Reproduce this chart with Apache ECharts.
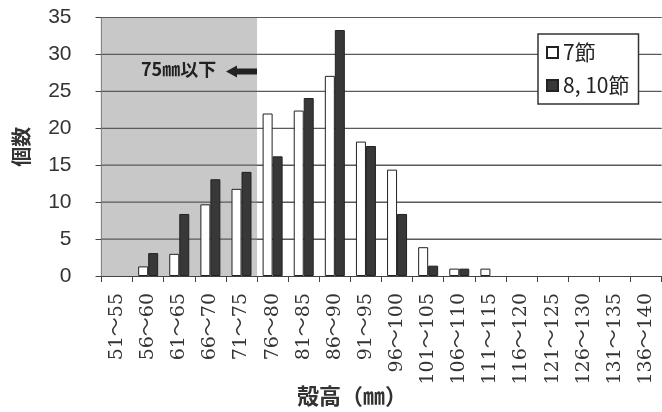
<!DOCTYPE html>
<html>
<head>
<meta charset="utf-8">
<script src="https://cdn.jsdelivr.net/npm/echarts@6/dist/echarts.min.js"></script>
<style>
html,body{margin:0;padding:0;background:#fff;}
#c{width:662px;height:412px;}
</style>
</head>
<body>
<div id="c"></div>
<script>
const categories = ['51～55','56～60','61～65','66～70','71～75','76～80','81～85','86～90','91～95','96～100','101～105','106～110','111～115','116～120','121～125','126～130','131～135','136～140'];
const seriesNames = ['7節', '8, 10節'];
const values7 = [0, 1.3, 3.0, 9.7, 11.8, 22.0, 22.4, 27.1, 18.2, 14.4, 3.9, 1.0, 1.0, 0, 0, 0, 0, 0];
const values810 = [0, 3.1, 8.4, 13.1, 14.1, 16.2, 24.1, 33.3, 17.6, 8.4, 1.4, 1.0, 0, 0, 0, 0, 0, 0];
const yTicks = [0, 5, 10, 15, 20, 25, 30, 35];
const shadeRange = [0, 5]; // first five classes (75mm以下)
const annotationText = '75㎜以下';
const xTitle = '殻高（㎜）';
const yTitle = '個数';

const toBar = v => (v === 0 ? '-' : v);

const GRID = {left: 101.5, top: 17.5, width: 560, height: 258.5};
const chart = echarts.init(document.getElementById('c'));
const sans = '"Liberation Sans", Arial, sans-serif';
const jp = '"Noto Sans CJK JP", sans-serif';
const serif = '"DejaVu Serif", "Liberation Serif", "Noto Sans CJK JP", serif';

const baseGraphic = [{
  type: 'text', left: 141, top: 60, z: 30,
  style: {text: annotationText, fontFamily: jp, fontSize: 18, fontWeight: 'bold', fill: '#222'}
}, {
  type: 'polygon', z: 30,
  shape: {points: [[226, 71.5], [237, 65.5], [237, 68.5], [257, 68.5], [257, 74.5], [237, 74.5], [237, 77.5]]},
  style: {fill: '#222'}
}, {
  type: 'text', z: 30,
  style: {text: xTitle, x: 352, y: 396, align: 'center', verticalAlign: 'middle', fontFamily: jp, fontSize: 22, fontWeight: 'bold', fill: '#333'}
}];

chart.setOption({
  animation: false,
  grid: GRID,
  legend: {
    orient: 'vertical', left: 538, top: 34, z: 30,
    data: seriesNames,
    backgroundColor: '#fff', borderColor: '#333', borderWidth: 1.5,
    padding: [8, 9, 8, 8], itemGap: 12, itemWidth: 11, itemHeight: 11, itemTextGap: 5,
    textStyle: {fontFamily: jp, fontSize: 21, color: '#222'},
    icon: 'rect'
  },
  xAxis: [{
    type: 'category', data: categories,
    axisLine: {lineStyle: {color: '#444', width: 1.2}},
    axisTick: {show: true, length: 6, lineStyle: {color: '#444'}},
    axisLabel: {rotate: 90, margin: 17, fontFamily: serif, fontSize: 19, color: '#333', interval: 0},
    splitLine: {show: false}
  }, {
    type: 'value', min: 0, max: categories.length, show: false
  }],
  yAxis: {
    type: 'value', min: yTicks[0], max: yTicks[yTicks.length - 1], interval: 5,
    name: yTitle, nameLocation: 'middle', nameRotate: 90, nameGap: 70,
    nameTextStyle: {fontFamily: jp, fontSize: 20, fontWeight: 'bold', color: '#333'},
    axisLine: {show: true, lineStyle: {color: '#444', width: 1.2}},
    axisTick: {show: true, length: 6, lineStyle: {color: '#444'}},
    axisLabel: {margin: 30, fontFamily: sans, fontSize: 21, color: '#333'},
    splitLine: {show: true, lineStyle: {color: '#5a5a5a', width: 1.2}}
  },
  series: [{
    name: 'shade', type: 'line', xAxisIndex: 1, yAxisIndex: 0, data: [],
    markArea: {
      silent: true,
      itemStyle: {color: '#c8c8c8'},
      data: [[{xAxis: shadeRange[0], yAxis: yTicks[0]}, {xAxis: shadeRange[1], yAxis: yTicks[yTicks.length - 1]}]]
    }
  }, {
    name: seriesNames[0], type: 'bar', data: values7.map(toBar), z: 20,
    barWidth: 10, barGap: '0%',
    itemStyle: {color: '#fff', borderColor: '#222', borderWidth: 1}
  }, {
    name: seriesNames[1], type: 'bar', data: values810.map(toBar), z: 20,
    barWidth: 10, barGap: '0%',
    itemStyle: {color: '#383838', borderColor: '#222', borderWidth: 1}
  }],
  graphic: baseGraphic
});

// horizontal gridlines at the y ticks, positioned through the chart's y scale
const yMax = yTicks[yTicks.length - 1];
const gridLines = yTicks.slice(1).map(v => {
  let y = chart.convertToPixel({yAxisIndex: 0}, v);
  if (!isFinite(y)) y = GRID.top + GRID.height * (1 - v / yMax);
  return {type: 'line', z: 15,
    shape: {x1: GRID.left, y1: y, x2: GRID.left + GRID.width, y2: y},
    style: {stroke: '#5a5a5a', lineWidth: 1.2}};
});
chart.setOption({graphic: baseGraphic.concat(gridLines)});
</script>
</body>
</html>
